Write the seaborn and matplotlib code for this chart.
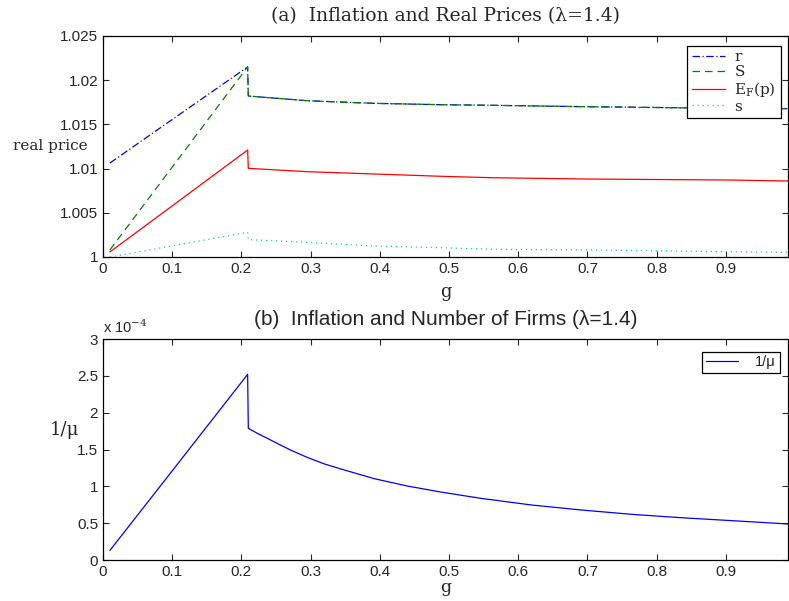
import pandas as pd
import matplotlib
matplotlib.use("Agg")
import matplotlib.pyplot as plt
import seaborn as sns

# --- Data ---
g_top = [0.01, 0.10, 0.209, 0.21, 0.295, 0.392, 0.488, 0.561, 0.70, 0.90, 0.99]
r_vals = [1.01063, 1.01555, 1.02150, 1.01821, 1.01768, 1.01738, 1.01723, 1.01716, 1.01700, 1.01682, 1.01678]
S_vals = [1.00080, 1.01016, 1.02150, 1.01821, 1.01768, 1.01738, 1.01723, 1.01716, 1.01700, 1.01682, 1.01678]
EF_vals = [1.00057, 1.00578, 1.01210, 1.01003, 1.00965, 1.00939, 1.00913, 1.00897, 1.00882, 1.00871, 1.00860]
s_vals = [1.00000, 1.00126, 1.00279, 1.00196, 1.00166, 1.00124, 1.00105, 1.00087, 1.00080, 1.00060, 1.00053]

g_bot = [0.01, 0.10, 0.209, 0.21, 0.223, 0.247, 0.271, 0.295, 0.319, 0.344, 0.392, 0.44,
         0.488, 0.546, 0.619, 0.691, 0.764, 0.836, 0.909, 0.99]
inv_mu = [0.13, 1.21, 2.52, 1.788, 1.72, 1.606, 1.493, 1.394, 1.307, 1.235, 1.104, 1.004,
          0.923, 0.837, 0.747, 0.679, 0.620, 0.574, 0.534, 0.489]  # x 1e-4

series_names = ["r", "S", "E_F(p)", "s"]
series_labels = ["r", "S", r"E$_\mathrm{F}$(p)", "s"]
series_colors = ["#0000ff", "#008000", "#ff0000", "#00cccc"]
series_dashes = [(6, 2, 1, 2), (6, 4), "", (1, 3)]

sns.set_style("ticks", {"xtick.direction": "in", "ytick.direction": "in"})
plt.rcParams["font.family"] = ["Liberation Sans", "DejaVu Sans"]
plt.rcParams["mathtext.fontset"] = "dejavuserif"
SERIF = ["DejaVu Serif"]

df_top = pd.DataFrame({"g": g_top, "r": r_vals, "S": S_vals, "E_F(p)": EF_vals, "s": s_vals})
df_top = df_top.melt(id_vars="g", var_name="series", value_name="price")
df_bot = pd.DataFrame({"g": g_bot, "inv_mu": inv_mu, "series": "1/mu"})

fig = plt.figure(figsize=(7.89, 6.01), dpi=100)
ax1 = fig.add_axes([0.1305, 0.5724, 0.8685, 0.3677])
ax2 = fig.add_axes([0.1305, 0.0682, 0.8685, 0.3677])

# --- (a) real prices ---
sns.lineplot(data=df_top, x="g", y="price", hue="series", style="series",
             hue_order=series_names, style_order=series_names,
             palette=dict(zip(series_names, series_colors)),
             dashes=dict(zip(series_names, series_dashes)),
             linewidth=0.9, ax=ax1)
ax1.set_xlim(0, 0.99)
ax1.set_ylim(1.0, 1.025)
ax1.set_yticks([1.0, 1.005, 1.01, 1.015, 1.02, 1.025])
ax1.set_yticklabels(["1", "1.005", "1.01", "1.015", "1.02", "1.025"])
ax1.set_title("(a)  Inflation and Real Prices (λ=1.4)", family=SERIF, fontsize=13.5, pad=11)
ax1.set_xlabel("g", family=SERIF, fontsize=13, labelpad=5)
ax1.set_ylabel("real price", family=SERIF, fontsize=11, rotation=0, ha="center", va="center")
ax1.yaxis.set_label_coords(-0.077, 0.50)
h, _ = ax1.get_legend_handles_labels()
leg = ax1.legend(h, series_labels, loc="upper right", bbox_to_anchor=(1.0, 0.99),
                 prop={"family": SERIF, "size": 11}, fancybox=False, edgecolor="black",
                 framealpha=1, handlelength=2.2, borderpad=0.3, labelspacing=0.05,
                 handletextpad=0.6)
leg.get_frame().set_linewidth(0.9)

# --- (b) number of firms ---
sns.lineplot(data=df_bot, x="g", y="inv_mu", hue="series", palette=["#0000ff"],
             linewidth=0.9, ax=ax2)
ax2.set_xlim(0, 0.99)
ax2.set_ylim(0, 3)
ax2.set_yticks([0, 0.5, 1, 1.5, 2, 2.5, 3])
ax2.set_yticklabels(["0", "0.5", "1", "1.5", "2", "2.5", "3"])
ax2.set_title("(b)  Inflation and Number of Firms (λ=1.4)", fontsize=15, pad=10)
ax2.set_xlabel("g", family=SERIF, fontsize=12.5, labelpad=0)
ax2.set_ylabel("1/μ", family=SERIF, fontsize=13, rotation=0, ha="center", va="center")
ax2.yaxis.set_label_coords(-0.056, 0.59)
ax2.text(0.0, 1.015, r"x 10$^{-4}$", transform=ax2.transAxes, fontsize=10.5, va="bottom")
leg2 = ax2.legend(["1/μ"], loc="upper right", bbox_to_anchor=(0.998, 0.975),
                  fancybox=False, edgecolor="black", framealpha=1, fontsize=10.5,
                  handlelength=2.2, borderpad=0.25, handletextpad=1.2)
leg2.get_frame().set_linewidth(0.9)

for ax in (ax1, ax2):
    ax.set_xticks([0, 0.1, 0.2, 0.3, 0.4, 0.5, 0.6, 0.7, 0.8, 0.9])
    ax.set_xticklabels(["0", "0.1", "0.2", "0.3", "0.4", "0.5", "0.6", "0.7", "0.8", "0.9"])
    ax.tick_params(axis="both", direction="in", top=True, right=True, labelsize=11, length=4, width=0.8)
    for sp in ax.spines.values():
        sp.set_visible(True)
        sp.set_linewidth(0.9)
        sp.set_color("black")

fig.savefig("out.png", dpi=100)
